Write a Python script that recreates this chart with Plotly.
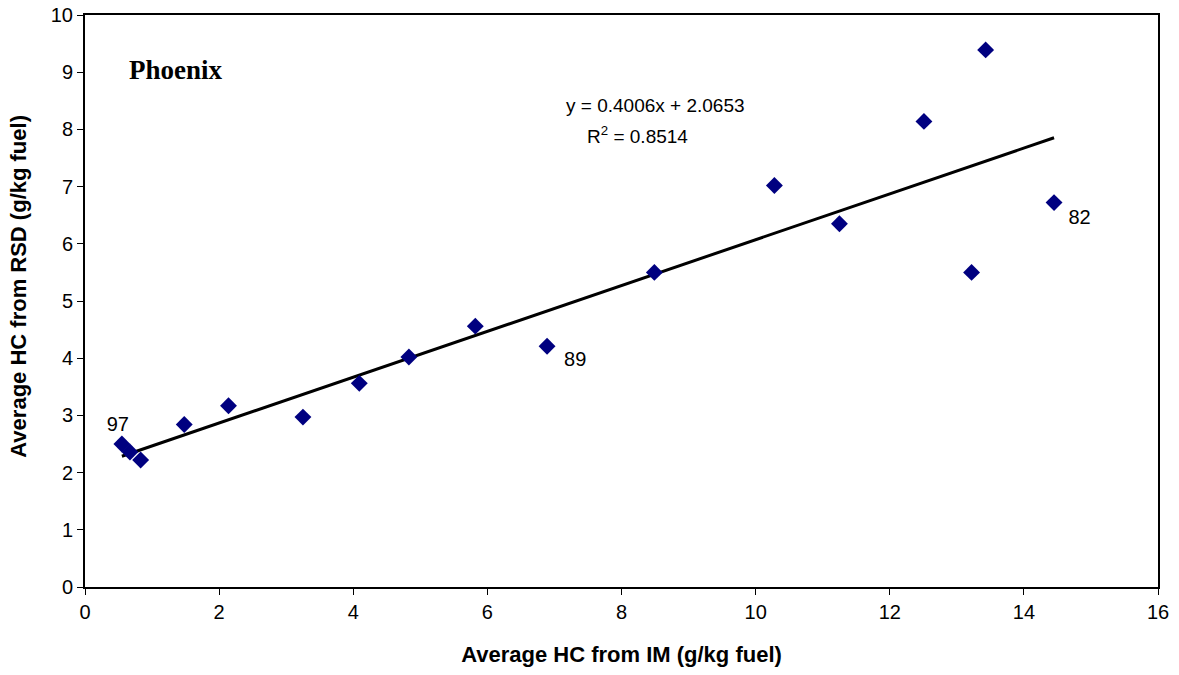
import plotly.graph_objects as go

im_hc = [0.55, 0.67, 0.83, 1.48, 2.14, 3.25, 4.09, 4.83, 5.82, 6.89, 8.49, 10.28, 11.25, 12.51, 13.22, 13.43, 14.45]
rsd_hc = [2.50, 2.36, 2.22, 2.84, 3.17, 2.97, 3.56, 4.02, 4.56, 4.21, 5.50, 7.02, 6.35, 8.14, 5.50, 9.39, 6.72]
slope = 0.4006
intercept = 2.0653
point_labels = ["97", "89", "82"]
label_x = [0.49, 7.31, 14.83]
label_y = [2.82, 3.95, 6.43]

x_fit = [min(im_hc), max(im_hc)]
y_fit = [slope * v + intercept for v in x_fit]

font = "Liberation Sans, Arial, sans-serif"

fig = go.Figure()
fig.add_trace(go.Scatter(x=x_fit, y=y_fit, mode="lines",
                         line=dict(color="black", width=3), showlegend=False, hoverinfo="skip"))
fig.add_trace(go.Scatter(x=im_hc, y=rsd_hc, mode="markers",
                         marker=dict(symbol="diamond", size=13, color="#000080"),
                         showlegend=False))
fig.add_trace(go.Scatter(x=label_x, y=label_y, mode="text", text=point_labels,
                         textfont=dict(family=font, size=20, color="black"),
                         showlegend=False, hoverinfo="skip"))

fig.add_annotation(x=8.5, y=8.42, text="y = 0.4006x + 2.0653", showarrow=False,
                   font=dict(family=font, size=19, color="black"))
fig.add_annotation(x=8.24, y=7.91, text="R<sup>2</sup> = 0.8514", showarrow=False,
                   font=dict(family=font, size=19, color="black"))
fig.add_annotation(x=1.35, y=9.03, text="<b>Phoenix</b>", showarrow=False,
                   font=dict(family="Liberation Serif, Times New Roman, serif", size=27, color="black"))
fig.add_annotation(xref="paper", yref="paper", x=-0.0615, y=0.525, textangle=-90,
                   text="<b>Average HC from RSD (g/kg fuel)</b>", showarrow=False,
                   xanchor="center", yanchor="middle",
                   font=dict(family=font, size=22, color="black"))

fig.update_layout(
    width=1179, height=675,
    margin=dict(l=85, r=21, t=15, b=88, autoexpand=False),
    plot_bgcolor="white", paper_bgcolor="white",
    font=dict(family=font, size=20, color="black"),
)
fig.update_xaxes(range=[0, 16], dtick=2, tick0=0, showgrid=False, zeroline=False,
                 showline=True, linecolor="black", linewidth=2, mirror=True,
                 ticks="outside", ticklen=6, tickcolor="black", automargin=False,
                 tickfont=dict(size=20), ticklabeloverflow="allow",
                 title=dict(text="<b>Average HC from IM (g/kg fuel)</b>", font=dict(size=22), standoff=25))
fig.update_yaxes(range=[0, 10], dtick=1, tick0=0, showgrid=False, zeroline=False,
                 showline=True, linecolor="black", linewidth=2, mirror=True,
                 ticks="outside", ticklen=6, tickcolor="black", automargin=False,
                 tickfont=dict(size=20), ticklabeloverflow="allow")

fig.write_html("out.html", config={"displayModeBar": False},
               post_script="document.body.style.margin='0';document.body.style.overflow='hidden';")
